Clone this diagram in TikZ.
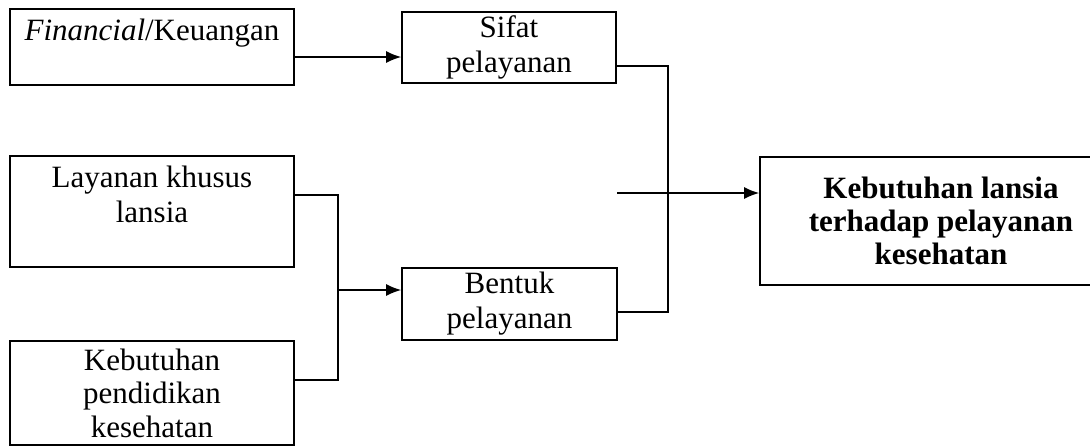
\documentclass[tikz,border=0pt]{standalone}
\usepackage{fontspec}
\setmainfont{Liberation Serif}
\usetikzlibrary{arrows.meta}
\tikzset{box/.style={draw, line width=0.8pt, align=center, inner sep=1pt, font=\fontsize{15.5}{17.5}\selectfont}}
\tikzset{boldbox/.style={box, font=\fontsize{15.5}{16.5}\selectfont\bfseries}}
\tikzset{link/.style={line width=0.8pt}}
\tikzset{arrlink/.style={link, -{Latex[length=7.5pt,width=6pt]}}}
\tikzset{every picture/.append style={x=0.5pt, y=-0.5pt}}
\begin{document}
\begin{tikzpicture}
\clip (0,0) rectangle (1090,446);
\node (fin) at (152,47)[box, minimum width=142pt, minimum height=38pt]{\textit{Financial}/Keuangan\\ \mbox{}};
\node (sifat) at (509,47.5)[box, minimum width=107pt, minimum height=35.5pt]{Sifat\\pelayanan};
\node (lay) at (152,211.5)[box, minimum width=142pt, minimum height=55.5pt]{Layanan khusus\\lansia\\ \mbox{}};
\node (pend) at (152,393)[box, minimum width=142pt, minimum height=52pt, font=\fontsize{15.5}{16.8}\selectfont]{Kebutuhan\\pendidikan\\kesehatan};
\node (bentuk) at (509.5,304)[box, minimum width=107.5pt, minimum height=36pt]{Bentuk\\pelayanan};
\node (kl) at (941,221)[boldbox, minimum width=181pt, minimum height=64pt]{Kebutuhan lansia\\terhadap pelayanan\\kesehatan};
% junctions
\coordinate (jl) at (338,290);
\coordinate (jr) at (668,193);
\coordinate (stub) at (617,193);

\draw[arrlink] (fin.east |- 0,57) -- (sifat.west |- 0,57);
\draw[link] (lay.east |- 0,195) -| (jl);
\draw[link] (pend.east |- 0,380) -| (jl);
\draw[arrlink] (jl) -- (bentuk.west |- jl);
\draw[link] (sifat.east |- 0,66) -| (jr);
\draw[link] (bentuk.east |- 0,312) -| (jr);
\draw[arrlink] (stub) -- (kl.west |- jr);
\end{tikzpicture}
\end{document}
